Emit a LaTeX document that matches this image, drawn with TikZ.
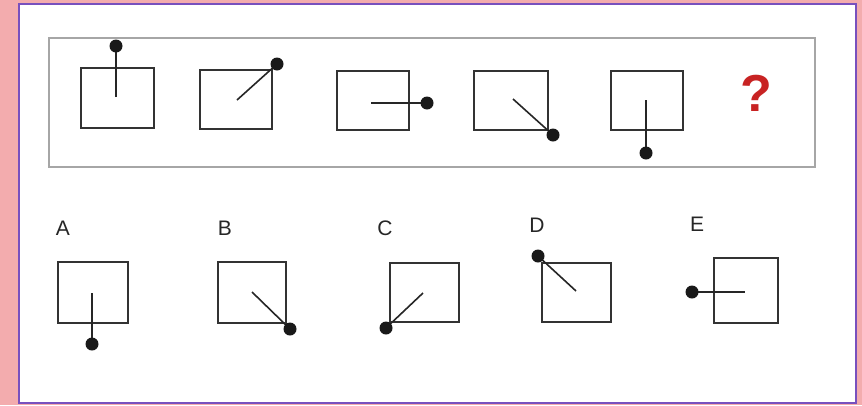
\documentclass[tikz,border=0pt]{standalone}
\usepackage{fontspec}
\setmainfont{Liberation Sans}
\definecolor{rim}{RGB}{243,172,174}
\definecolor{frameline}{RGB}{120,80,190}
\definecolor{qred}{RGB}{200,35,35}
\tikzset{
  box/.style={draw=black!80, line width=1.8pt},
  pin/.style={draw=black!85, line width=1.6pt},
  knob/.style={fill=black!90},
  letter/.style={font=\fontsize{21}{21}\selectfont, text=black!85},
}
\begin{document}
\begin{tikzpicture}[x=1pt, y=-1pt]
    % Background and border
    \fill[rim] (0,0) rectangle (862,405);
    \draw[frameline, line width=2.5pt, fill=white] (19,4) rectangle (856,403);
    \useasboundingbox (0,0) rectangle (862,405);
    % Question frame
    \draw[black!35, line width=1.6pt] (49,38) rectangle (815,167);
    % Sequence
    \draw[box] (81,68) rectangle (154,128);
    \draw[pin] (116,97) -- (116,46);
    \fill[knob] (116,46) circle (6.5);
    \draw[box] (200,70) rectangle (272,129);
    \draw[pin] (237,100) -- (277,64);
    \fill[knob] (277,64) circle (6.5);
    \draw[box] (337,71) rectangle (409,130);
    \draw[pin] (371,103) -- (427,103);
    \fill[knob] (427,103) circle (6.5);
    \draw[box] (474,71) rectangle (548,130);
    \draw[pin] (513,99) -- (553,135);
    \fill[knob] (553,135) circle (6.5);
    \draw[box] (611,71) rectangle (683,130);
    \draw[pin] (646,100) -- (646,153);
    \fill[knob] (646,153) circle (6.5);
    \node[text=qred, font=\fontsize{52}{52}\selectfont\bfseries] (qmark) at (756,93) {?};
    % Answers
    \node[letter] (labA) at (63,228) {A};
    \draw[box] (58,262) rectangle (128,323);
    \draw[pin] (92,293) -- (92,344);
    \fill[knob] (92,344) circle (6.5);
    \node[letter] (labB) at (225,228) {B};
    \draw[box] (218,262) rectangle (286,323);
    \draw[pin] (252,292) -- (290,329);
    \fill[knob] (290,329) circle (6.5);
    \node[letter] (labC) at (385,228) {C};
    \draw[box] (390,263) rectangle (459,322);
    \draw[pin] (423,293) -- (386,328);
    \fill[knob] (386,328) circle (6.5);
    \node[letter] (labD) at (537,225) {D};
    \draw[box] (542,263) rectangle (611,322);
    \draw[pin] (538,256) -- (576,291);
    \fill[knob] (538,256) circle (6.5);
    \node[letter] (labE) at (697,224) {E};
    \draw[box] (714,258) rectangle (778,323);
    \draw[pin] (692,292) -- (745,292);
    \fill[knob] (692,292) circle (6.5);
\end{tikzpicture}
\end{document}
